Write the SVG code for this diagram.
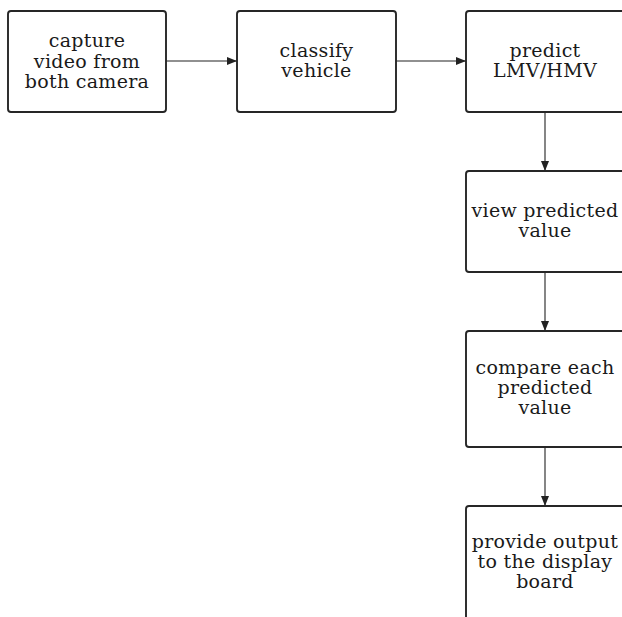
<svg xmlns="http://www.w3.org/2000/svg" width="622" height="617" viewBox="0 0 622 617">
<style>
.box{fill:#fff;stroke:#262626;stroke-width:1.9}
.lbl{font-family:"DejaVu Serif","Liberation Serif",serif;font-size:19px;letter-spacing:0.3px;fill:#1a1a1a;text-anchor:middle}
.conn{stroke:#222;stroke-width:1.1;fill:none}
</style>
<defs>
<marker id="arr" viewBox="0 0 10 10" refX="10" refY="5" markerWidth="10" markerHeight="10" markerUnits="userSpaceOnUse" orient="auto">
<path d="M0,1 L10,5 L0,9 Z" fill="#222"/>
</marker>
</defs>
<rect width="622" height="617" fill="#fff"/>
<g id="connectors">
<line class="conn" x1="166" y1="61" x2="237" y2="61" marker-end="url(#arr)"/>
<line class="conn" x1="396" y1="61" x2="466" y2="61" marker-end="url(#arr)"/>
<line class="conn" x1="545" y1="112" x2="545" y2="171" marker-end="url(#arr)"/>
<line class="conn" x1="545" y1="272" x2="545" y2="331" marker-end="url(#arr)"/>
<line class="conn" x1="545" y1="447" x2="545" y2="506" marker-end="url(#arr)"/>
</g>
<g id="n1">
<rect class="box" x="8" y="11" width="158" height="101" rx="3"/>
<text class="lbl" x="87" y="47">capture</text>
<text class="lbl" x="87" y="68">video from</text>
<text class="lbl" x="87" y="88">both camera</text>
</g>
<g id="n2">
<rect class="box" x="237" y="11" width="159" height="101" rx="3"/>
<text class="lbl" x="316.5" y="57">classify</text>
<text class="lbl" x="316.5" y="77">vehicle</text>
</g>
<g id="n3">
<rect class="box" x="466" y="11" width="158" height="101" rx="3"/>
<text class="lbl" x="545" y="57">predict</text>
<text class="lbl" x="545" y="77">LMV/HMV</text>
</g>
<g id="n4">
<rect class="box" x="466" y="171" width="158" height="101" rx="3"/>
<text class="lbl" x="545" y="217">view predicted</text>
<text class="lbl" x="545" y="237">value</text>
</g>
<g id="n5">
<rect class="box" x="466" y="331" width="158" height="116" rx="3"/>
<text class="lbl" x="545" y="374">compare each</text>
<text class="lbl" x="545" y="394">predicted</text>
<text class="lbl" x="545" y="414">value</text>
</g>
<g id="n6">
<rect class="box" x="466" y="506" width="158" height="124" rx="3"/>
<text class="lbl" x="545" y="548">provide output</text>
<text class="lbl" x="545" y="568">to the display</text>
<text class="lbl" x="545" y="588">board</text>
</g>
</svg>
